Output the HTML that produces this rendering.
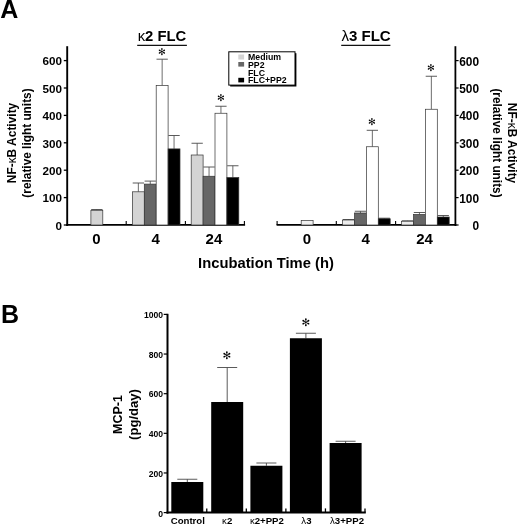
<!DOCTYPE html>
<html lang="en"><head><meta charset="utf-8"><title>Figure</title>
<style>
html,body{margin:0;padding:0;background:#fff;}
body{width:520px;height:526px;overflow:hidden;}
svg{display:block;}
</style></head><body>
<svg width="520" height="526" viewBox="0 0 520 526" font-family='"Liberation Sans", sans-serif' fill="#000">
<rect width="520" height="526" fill="#fff"/>
<text x="0.30" y="18.10" font-size="25" font-weight="bold" text-anchor="start" >A</text>
<text x="1.10" y="323.10" font-size="25" font-weight="bold" text-anchor="start" >B</text>
<line x1="67.20" y1="46.20" x2="67.20" y2="226.00" stroke="#000" stroke-width="1.9"/>
<line x1="66.25" y1="224.90" x2="245.10" y2="224.90" stroke="#000" stroke-width="1.8"/>
<line x1="63.80" y1="225.00" x2="67.20" y2="225.00" stroke="#000" stroke-width="1.3"/>
<text x="62.00" y="229.80" font-size="11.7" font-weight="bold" text-anchor="end" >0</text>
<line x1="63.80" y1="197.60" x2="67.20" y2="197.60" stroke="#000" stroke-width="1.3"/>
<text x="62.00" y="202.40" font-size="11.7" font-weight="bold" text-anchor="end" >100</text>
<line x1="63.80" y1="170.20" x2="67.20" y2="170.20" stroke="#000" stroke-width="1.3"/>
<text x="62.00" y="175.00" font-size="11.7" font-weight="bold" text-anchor="end" >200</text>
<line x1="63.80" y1="142.80" x2="67.20" y2="142.80" stroke="#000" stroke-width="1.3"/>
<text x="62.00" y="147.60" font-size="11.7" font-weight="bold" text-anchor="end" >300</text>
<line x1="63.80" y1="115.40" x2="67.20" y2="115.40" stroke="#000" stroke-width="1.3"/>
<text x="62.00" y="120.20" font-size="11.7" font-weight="bold" text-anchor="end" >400</text>
<line x1="63.80" y1="88.00" x2="67.20" y2="88.00" stroke="#000" stroke-width="1.3"/>
<text x="62.00" y="92.80" font-size="11.7" font-weight="bold" text-anchor="end" >500</text>
<line x1="63.80" y1="60.60" x2="67.20" y2="60.60" stroke="#000" stroke-width="1.3"/>
<text x="62.00" y="65.40" font-size="11.7" font-weight="bold" text-anchor="end" >600</text>
<line x1="126.20" y1="225.00" x2="126.20" y2="221.10" stroke="#000" stroke-width="1.1"/>
<line x1="185.40" y1="225.00" x2="185.40" y2="221.10" stroke="#000" stroke-width="1.1"/>
<line x1="244.40" y1="225.00" x2="244.40" y2="221.10" stroke="#000" stroke-width="1.1"/>
<line x1="96.85" y1="210.30" x2="96.85" y2="209.50" stroke="#484848" stroke-width="0.8"/>
<line x1="91.20" y1="209.50" x2="102.50" y2="209.50" stroke="#484848" stroke-width="0.9"/>
<rect x="90.90" y="210.30" width="11.90" height="14.70" fill="#d4d4d4" stroke="#333" stroke-width="0.7"/>
<line x1="138.35" y1="191.80" x2="138.35" y2="183.00" stroke="#484848" stroke-width="0.8"/>
<line x1="132.70" y1="183.00" x2="144.00" y2="183.00" stroke="#484848" stroke-width="0.9"/>
<rect x="132.40" y="191.80" width="11.90" height="33.20" fill="#d4d4d4" stroke="#333" stroke-width="0.7"/>
<line x1="150.25" y1="184.10" x2="150.25" y2="181.10" stroke="#484848" stroke-width="0.8"/>
<line x1="144.60" y1="181.10" x2="155.90" y2="181.10" stroke="#484848" stroke-width="0.9"/>
<rect x="144.30" y="184.10" width="11.90" height="40.90" fill="#666" stroke="#333" stroke-width="0.7"/>
<line x1="162.15" y1="85.50" x2="162.15" y2="59.20" stroke="#484848" stroke-width="0.8"/>
<line x1="156.50" y1="59.20" x2="167.80" y2="59.20" stroke="#484848" stroke-width="0.9"/>
<rect x="156.20" y="85.50" width="11.90" height="139.50" fill="#fff" stroke="#333" stroke-width="0.7"/>
<line x1="174.05" y1="148.90" x2="174.05" y2="135.50" stroke="#484848" stroke-width="0.8"/>
<line x1="168.40" y1="135.50" x2="179.70" y2="135.50" stroke="#484848" stroke-width="0.9"/>
<rect x="168.10" y="148.90" width="11.90" height="76.10" fill="#000" stroke="#333" stroke-width="0.7"/>
<line x1="197.15" y1="155.00" x2="197.15" y2="143.25" stroke="#484848" stroke-width="0.8"/>
<line x1="191.50" y1="143.25" x2="202.80" y2="143.25" stroke="#484848" stroke-width="0.9"/>
<rect x="191.20" y="155.00" width="11.90" height="70.00" fill="#d4d4d4" stroke="#333" stroke-width="0.7"/>
<line x1="209.05" y1="176.25" x2="209.05" y2="167.00" stroke="#484848" stroke-width="0.8"/>
<line x1="203.40" y1="167.00" x2="214.70" y2="167.00" stroke="#484848" stroke-width="0.9"/>
<rect x="203.10" y="176.25" width="11.90" height="48.75" fill="#666" stroke="#333" stroke-width="0.7"/>
<line x1="220.95" y1="113.25" x2="220.95" y2="106.25" stroke="#484848" stroke-width="0.8"/>
<line x1="215.30" y1="106.25" x2="226.60" y2="106.25" stroke="#484848" stroke-width="0.9"/>
<rect x="215.00" y="113.25" width="11.90" height="111.75" fill="#fff" stroke="#333" stroke-width="0.7"/>
<line x1="232.85" y1="177.50" x2="232.85" y2="165.75" stroke="#484848" stroke-width="0.8"/>
<line x1="227.20" y1="165.75" x2="238.50" y2="165.75" stroke="#484848" stroke-width="0.9"/>
<rect x="226.90" y="177.50" width="11.90" height="47.50" fill="#000" stroke="#333" stroke-width="0.7"/>
<text x="96.50" y="243.50" font-size="15" font-weight="bold" text-anchor="middle" >0</text>
<text x="155.70" y="243.50" font-size="15" font-weight="bold" text-anchor="middle" >4</text>
<text x="213.90" y="243.50" font-size="15" font-weight="bold" text-anchor="middle" >24</text>
<text x="137.70" y="41.20" font-size="14.8" font-weight="bold" text-anchor="start" ><tspan font-weight="normal">κ</tspan>2 FLC</text>
<line x1="137.20" y1="45.30" x2="186.90" y2="45.30" stroke="#111" stroke-width="1.15"/>
<text x="161.90" y="54.79" font-size="9.3" font-weight="normal" text-anchor="middle" font-family='"DejaVu Sans", sans-serif'>✻</text>
<text x="220.90" y="101.39" font-size="9.3" font-weight="normal" text-anchor="middle" font-family='"DejaVu Sans", sans-serif'>✻</text>
<rect x="230.2" y="53.2" width="66.2" height="33.3" fill="#000"/>
<rect x="228.8" y="51.8" width="66.2" height="33.3" fill="#fff" stroke="#000" stroke-width="1"/>
<rect x="238.30" y="54.50" width="5.80" height="5.00" fill="#d4d4d4"/>
<rect x="238.30" y="62.00" width="5.80" height="4.60" fill="#666"/>
<rect x="238.30" y="77.80" width="5.80" height="4.60" fill="#000"/>
<text x="248.00" y="60.40" font-size="8.75" font-weight="bold" text-anchor="start" >Medium</text>
<text x="248.00" y="68.00" font-size="8.75" font-weight="bold" text-anchor="start" >PP2</text>
<text x="248.00" y="75.60" font-size="8.75" font-weight="bold" text-anchor="start" >FLC</text>
<text x="248.00" y="83.20" font-size="8.75" font-weight="bold" text-anchor="start" >FLC+PP2</text>
<line x1="455.40" y1="46.20" x2="455.40" y2="226.00" stroke="#000" stroke-width="1.8"/>
<line x1="276.60" y1="224.90" x2="456.30" y2="224.90" stroke="#000" stroke-width="1.7"/>
<line x1="455.50" y1="225.00" x2="458.60" y2="225.00" stroke="#000" stroke-width="1.2"/>
<text x="479.00" y="229.95" font-size="11.9" font-weight="bold" text-anchor="end" >0</text>
<line x1="455.50" y1="197.60" x2="458.60" y2="197.60" stroke="#000" stroke-width="1.2"/>
<text x="479.00" y="202.55" font-size="11.9" font-weight="bold" text-anchor="end" >100</text>
<line x1="455.50" y1="170.20" x2="458.60" y2="170.20" stroke="#000" stroke-width="1.2"/>
<text x="479.00" y="175.15" font-size="11.9" font-weight="bold" text-anchor="end" >200</text>
<line x1="455.50" y1="142.80" x2="458.60" y2="142.80" stroke="#000" stroke-width="1.2"/>
<text x="479.00" y="147.75" font-size="11.9" font-weight="bold" text-anchor="end" >300</text>
<line x1="455.50" y1="115.40" x2="458.60" y2="115.40" stroke="#000" stroke-width="1.2"/>
<text x="479.00" y="120.35" font-size="11.9" font-weight="bold" text-anchor="end" >400</text>
<line x1="455.50" y1="88.00" x2="458.60" y2="88.00" stroke="#000" stroke-width="1.2"/>
<text x="479.00" y="92.95" font-size="11.9" font-weight="bold" text-anchor="end" >500</text>
<line x1="455.50" y1="60.60" x2="458.60" y2="60.60" stroke="#000" stroke-width="1.2"/>
<text x="479.00" y="65.55" font-size="11.9" font-weight="bold" text-anchor="end" >600</text>
<line x1="277.10" y1="225.00" x2="277.10" y2="221.10" stroke="#000" stroke-width="1.1"/>
<line x1="336.30" y1="225.00" x2="336.30" y2="221.10" stroke="#000" stroke-width="1.1"/>
<line x1="395.60" y1="225.00" x2="395.60" y2="221.10" stroke="#000" stroke-width="1.1"/>
<rect x="301.20" y="220.50" width="11.90" height="4.50" fill="#f0f0f0" stroke="#333" stroke-width="0.7"/>
<line x1="348.55" y1="220.00" x2="348.55" y2="219.50" stroke="#484848" stroke-width="0.8"/>
<line x1="342.90" y1="219.50" x2="354.20" y2="219.50" stroke="#484848" stroke-width="0.9"/>
<rect x="342.60" y="220.00" width="11.90" height="5.00" fill="#ececec" stroke="#333" stroke-width="0.7"/>
<line x1="360.45" y1="213.00" x2="360.45" y2="211.25" stroke="#484848" stroke-width="0.8"/>
<line x1="354.80" y1="211.25" x2="366.10" y2="211.25" stroke="#484848" stroke-width="0.9"/>
<rect x="354.50" y="213.00" width="11.90" height="12.00" fill="#666" stroke="#333" stroke-width="0.7"/>
<line x1="372.35" y1="146.75" x2="372.35" y2="130.30" stroke="#484848" stroke-width="0.8"/>
<line x1="366.70" y1="130.30" x2="378.00" y2="130.30" stroke="#484848" stroke-width="0.9"/>
<rect x="366.40" y="146.75" width="11.90" height="78.25" fill="#fff" stroke="#333" stroke-width="0.7"/>
<line x1="384.25" y1="218.75" x2="384.25" y2="218.20" stroke="#484848" stroke-width="0.8"/>
<line x1="378.60" y1="218.20" x2="389.90" y2="218.20" stroke="#484848" stroke-width="0.9"/>
<rect x="378.30" y="218.75" width="11.90" height="6.25" fill="#000" stroke="#333" stroke-width="0.7"/>
<line x1="407.55" y1="221.25" x2="407.55" y2="220.80" stroke="#484848" stroke-width="0.8"/>
<line x1="401.90" y1="220.80" x2="413.20" y2="220.80" stroke="#484848" stroke-width="0.9"/>
<rect x="401.60" y="221.25" width="11.90" height="3.75" fill="#ececec" stroke="#333" stroke-width="0.7"/>
<line x1="419.45" y1="214.50" x2="419.45" y2="212.50" stroke="#484848" stroke-width="0.8"/>
<line x1="413.80" y1="212.50" x2="425.10" y2="212.50" stroke="#484848" stroke-width="0.9"/>
<rect x="413.50" y="214.50" width="11.90" height="10.50" fill="#666" stroke="#333" stroke-width="0.7"/>
<line x1="431.35" y1="109.25" x2="431.35" y2="76.25" stroke="#484848" stroke-width="0.8"/>
<line x1="425.70" y1="76.25" x2="437.00" y2="76.25" stroke="#484848" stroke-width="0.9"/>
<rect x="425.40" y="109.25" width="11.90" height="115.75" fill="#fff" stroke="#333" stroke-width="0.7"/>
<line x1="443.25" y1="217.00" x2="443.25" y2="215.50" stroke="#484848" stroke-width="0.8"/>
<line x1="437.60" y1="215.50" x2="448.90" y2="215.50" stroke="#484848" stroke-width="0.9"/>
<rect x="437.30" y="217.00" width="11.90" height="8.00" fill="#000" stroke="#333" stroke-width="0.7"/>
<text x="306.80" y="243.50" font-size="15" font-weight="bold" text-anchor="middle" >0</text>
<text x="365.60" y="243.50" font-size="15" font-weight="bold" text-anchor="middle" >4</text>
<text x="424.60" y="243.50" font-size="15" font-weight="bold" text-anchor="middle" >24</text>
<text x="341.40" y="41.30" font-size="15.05" font-weight="bold" text-anchor="start" ><tspan font-weight="normal">λ</tspan>3 FLC</text>
<line x1="341.20" y1="45.30" x2="390.40" y2="45.30" stroke="#111" stroke-width="1.15"/>
<text x="371.80" y="125.29" font-size="9.3" font-weight="normal" text-anchor="middle" font-family='"DejaVu Sans", sans-serif'>✻</text>
<text x="430.90" y="71.39" font-size="9.3" font-weight="normal" text-anchor="middle" font-family='"DejaVu Sans", sans-serif'>✻</text>
<text x="266.00" y="268.00" font-size="14.75" font-weight="bold" text-anchor="middle" >Incubation Time (h)</text>
<g transform="translate(16.4,143) rotate(-90)">
<text x="0.00" y="0.00" font-size="11.95" font-weight="bold" text-anchor="middle" >NF-<tspan font-weight="normal">κ</tspan>B Activity</text>
<text x="0.00" y="15.00" font-size="11.85" font-weight="bold" text-anchor="middle" >(relative light units)</text>
</g>
<g transform="translate(507.8,143) rotate(90)">
<text x="0.00" y="0.00" font-size="11.95" font-weight="bold" text-anchor="middle" >NF-<tspan font-weight="normal">κ</tspan>B Activity</text>
<text x="0.00" y="15.00" font-size="11.85" font-weight="bold" text-anchor="middle" >(relative light units)</text>
</g>
<line x1="167.50" y1="313.80" x2="167.50" y2="513.60" stroke="#000" stroke-width="2.0"/>
<line x1="166.50" y1="512.60" x2="365.80" y2="512.60" stroke="#000" stroke-width="2.0"/>
<line x1="163.70" y1="512.60" x2="167.50" y2="512.60" stroke="#000" stroke-width="1.2"/>
<text x="163.00" y="516.70" font-size="8.6" font-weight="bold" text-anchor="end" >0</text>
<line x1="163.70" y1="472.96" x2="167.50" y2="472.96" stroke="#000" stroke-width="1.2"/>
<text x="163.00" y="476.56" font-size="8.6" font-weight="bold" text-anchor="end" >200</text>
<line x1="163.70" y1="433.32" x2="167.50" y2="433.32" stroke="#000" stroke-width="1.2"/>
<text x="163.00" y="436.92" font-size="8.6" font-weight="bold" text-anchor="end" >400</text>
<line x1="163.70" y1="393.68" x2="167.50" y2="393.68" stroke="#000" stroke-width="1.2"/>
<text x="163.00" y="397.28" font-size="8.6" font-weight="bold" text-anchor="end" >600</text>
<line x1="163.70" y1="354.04" x2="167.50" y2="354.04" stroke="#000" stroke-width="1.2"/>
<text x="163.00" y="357.64" font-size="8.6" font-weight="bold" text-anchor="end" >800</text>
<line x1="163.70" y1="314.40" x2="167.50" y2="314.40" stroke="#000" stroke-width="1.2"/>
<text x="163.00" y="318.00" font-size="8.6" font-weight="bold" text-anchor="end" >1000</text>
<line x1="206.76" y1="512.60" x2="206.76" y2="508.40" stroke="#000" stroke-width="1.3"/>
<line x1="246.32" y1="512.60" x2="246.32" y2="508.40" stroke="#000" stroke-width="1.3"/>
<line x1="285.88" y1="512.60" x2="285.88" y2="508.40" stroke="#000" stroke-width="1.3"/>
<line x1="325.44" y1="512.60" x2="325.44" y2="508.40" stroke="#000" stroke-width="1.3"/>
<line x1="365.00" y1="512.60" x2="365.00" y2="508.40" stroke="#000" stroke-width="1.3"/>
<line x1="187.30" y1="482.00" x2="187.30" y2="479.25" stroke="#484848" stroke-width="0.9"/>
<line x1="177.30" y1="479.25" x2="197.30" y2="479.25" stroke="#484848" stroke-width="0.9"/>
<rect x="171.30" y="482.00" width="32.00" height="30.60" fill="#000"/>
<line x1="227.20" y1="402.00" x2="227.20" y2="367.50" stroke="#484848" stroke-width="0.9"/>
<line x1="217.20" y1="367.50" x2="237.20" y2="367.50" stroke="#484848" stroke-width="0.9"/>
<rect x="211.20" y="402.00" width="32.00" height="110.60" fill="#000"/>
<line x1="266.40" y1="465.75" x2="266.40" y2="463.00" stroke="#484848" stroke-width="0.9"/>
<line x1="256.40" y1="463.00" x2="276.40" y2="463.00" stroke="#484848" stroke-width="0.9"/>
<rect x="250.40" y="465.75" width="32.00" height="46.85" fill="#000"/>
<line x1="305.90" y1="338.25" x2="305.90" y2="333.25" stroke="#484848" stroke-width="0.9"/>
<line x1="295.90" y1="333.25" x2="315.90" y2="333.25" stroke="#484848" stroke-width="0.9"/>
<rect x="289.90" y="338.25" width="32.00" height="174.35" fill="#000"/>
<line x1="345.60" y1="443.00" x2="345.60" y2="441.25" stroke="#484848" stroke-width="0.9"/>
<line x1="335.60" y1="441.25" x2="355.60" y2="441.25" stroke="#484848" stroke-width="0.9"/>
<rect x="329.60" y="443.00" width="32.00" height="69.60" fill="#000"/>
<text x="187.80" y="523.90" font-size="9.65" font-weight="bold" text-anchor="middle" >Control</text>
<text x="227.20" y="523.90" font-size="9.65" font-weight="bold" text-anchor="middle" ><tspan font-weight="normal">κ</tspan>2</text>
<text x="266.90" y="523.90" font-size="9.65" font-weight="bold" text-anchor="middle" ><tspan font-weight="normal">κ</tspan>2+PP2</text>
<text x="306.40" y="523.90" font-size="9.65" font-weight="bold" text-anchor="middle" ><tspan font-weight="normal">λ</tspan>3</text>
<text x="347.00" y="523.90" font-size="9.65" font-weight="bold" text-anchor="middle" ><tspan font-weight="normal">λ</tspan>3+PP2</text>
<text x="226.90" y="359.20" font-size="10.4" font-weight="normal" text-anchor="middle" font-family='"DejaVu Sans", sans-serif'>✻</text>
<text x="305.90" y="325.80" font-size="10.4" font-weight="normal" text-anchor="middle" font-family='"DejaVu Sans", sans-serif'>✻</text>
<g transform="translate(122.2,414.5) rotate(-90)">
<text x="0.00" y="0.00" font-size="12.5" font-weight="bold" text-anchor="middle" >MCP-1</text>
<text x="0.00" y="15.70" font-size="13.1" font-weight="bold" text-anchor="middle" >(pg/day)</text>
</g>
</svg>
</body></html>
